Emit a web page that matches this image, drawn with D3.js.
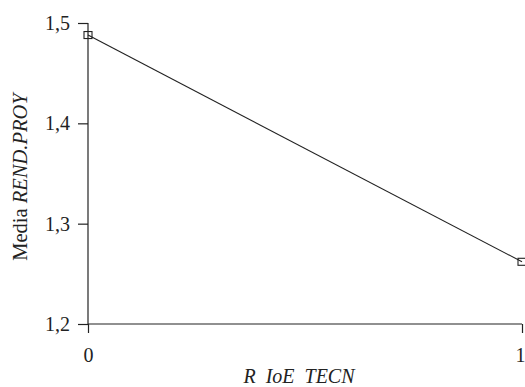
<!DOCTYPE html>
<html lang="es">
<head>
<meta charset="UTF-8">
<script src="https://d3js.org/d3.v7.min.js"></script>
<style>
  body, html { margin: 0; background: white; }
  svg { display: block; }
  text { font-family: "Liberation Serif", "Times New Roman", serif; fill: #222; }
</style>
</head>
<body>
<div id="chart"></div>
<script>
const categories = [0, 1];
const means = [1.488, 1.262];
const yTicks = [1.2, 1.3, 1.4, 1.5];

const width = 525, height = 387;
const x = d3.scaleLinear().domain([0, 1]).range([88, 522]);
const y = d3.scaleLinear().domain([1.2, 1.5]).range([324, 23]);

const svg = d3.select("#chart").append("svg")
    .attr("width", width).attr("height", height);

const fmt = d => d3.format(".1f")(d).replace(".", ",");

// y axis
const yAxis = svg.append("g").attr("transform", "translate(88,0)")
    .call(d3.axisLeft(y).tickValues(yTicks).tickFormat(fmt).tickSize(10).tickPadding(8));
// x axis
const xAxis = svg.append("g").attr("transform", "translate(0,324)")
    .call(d3.axisBottom(x).tickValues(categories).tickFormat(d3.format("d")).tickSize(9).tickPadding(15));

[yAxis, xAxis].forEach(g => {
  g.select(".domain").attr("stroke", "#222").attr("stroke-width", 1.2);
  g.selectAll(".tick line").attr("stroke", "#222").attr("stroke-width", 1.2);
  g.selectAll(".tick text").style("font-size", "20px")
    .style("font-family", "'Liberation Serif', serif").attr("fill", "#222");
});
yAxis.select(".domain").attr("d", "M0," + y(1.5) + "V" + y(1.2));
xAxis.select(".domain").attr("d", "M" + x(0) + ",0H" + x(1));
// last label sits on the right edge; keep it inside the frame
xAxis.selectAll(".tick text").filter(d => d === 1).attr("x", -2);

const pts = categories.map((c, i) => ({ c, v: means[i] }));

svg.append("path")
    .datum(pts)
    .attr("fill", "none")
    .attr("stroke", "#222")
    .attr("stroke-width", 1.1)
    .attr("d", d3.line().x(d => x(d.c)).y(d => y(d.v)));

svg.selectAll("rect.marker").data(pts).enter().append("rect")
    .attr("class", "marker")
    .attr("x", d => x(d.c) - 4)
    .attr("y", d => y(d.v) - 3.5)
    .attr("width", 8).attr("height", 7)
    .attr("fill", "none").attr("stroke", "#222").attr("stroke-width", 1.1);

// axis titles
const yl = svg.append("text")
    .attr("transform", "translate(27,177) rotate(-90)")
    .attr("text-anchor", "middle")
    .style("font-size", "20.5px");
yl.append("tspan").text("Media ");
yl.append("tspan").style("font-style", "italic").text("REND.PROY");

svg.append("text")
    .attr("x", 299).attr("y", 383)
    .attr("text-anchor", "middle")
    .style("font-size", "20px").style("font-style", "italic")
    .attr("xml:space", "preserve")
    .text("R  IoE  TECN");
</script>
</body>
</html>
